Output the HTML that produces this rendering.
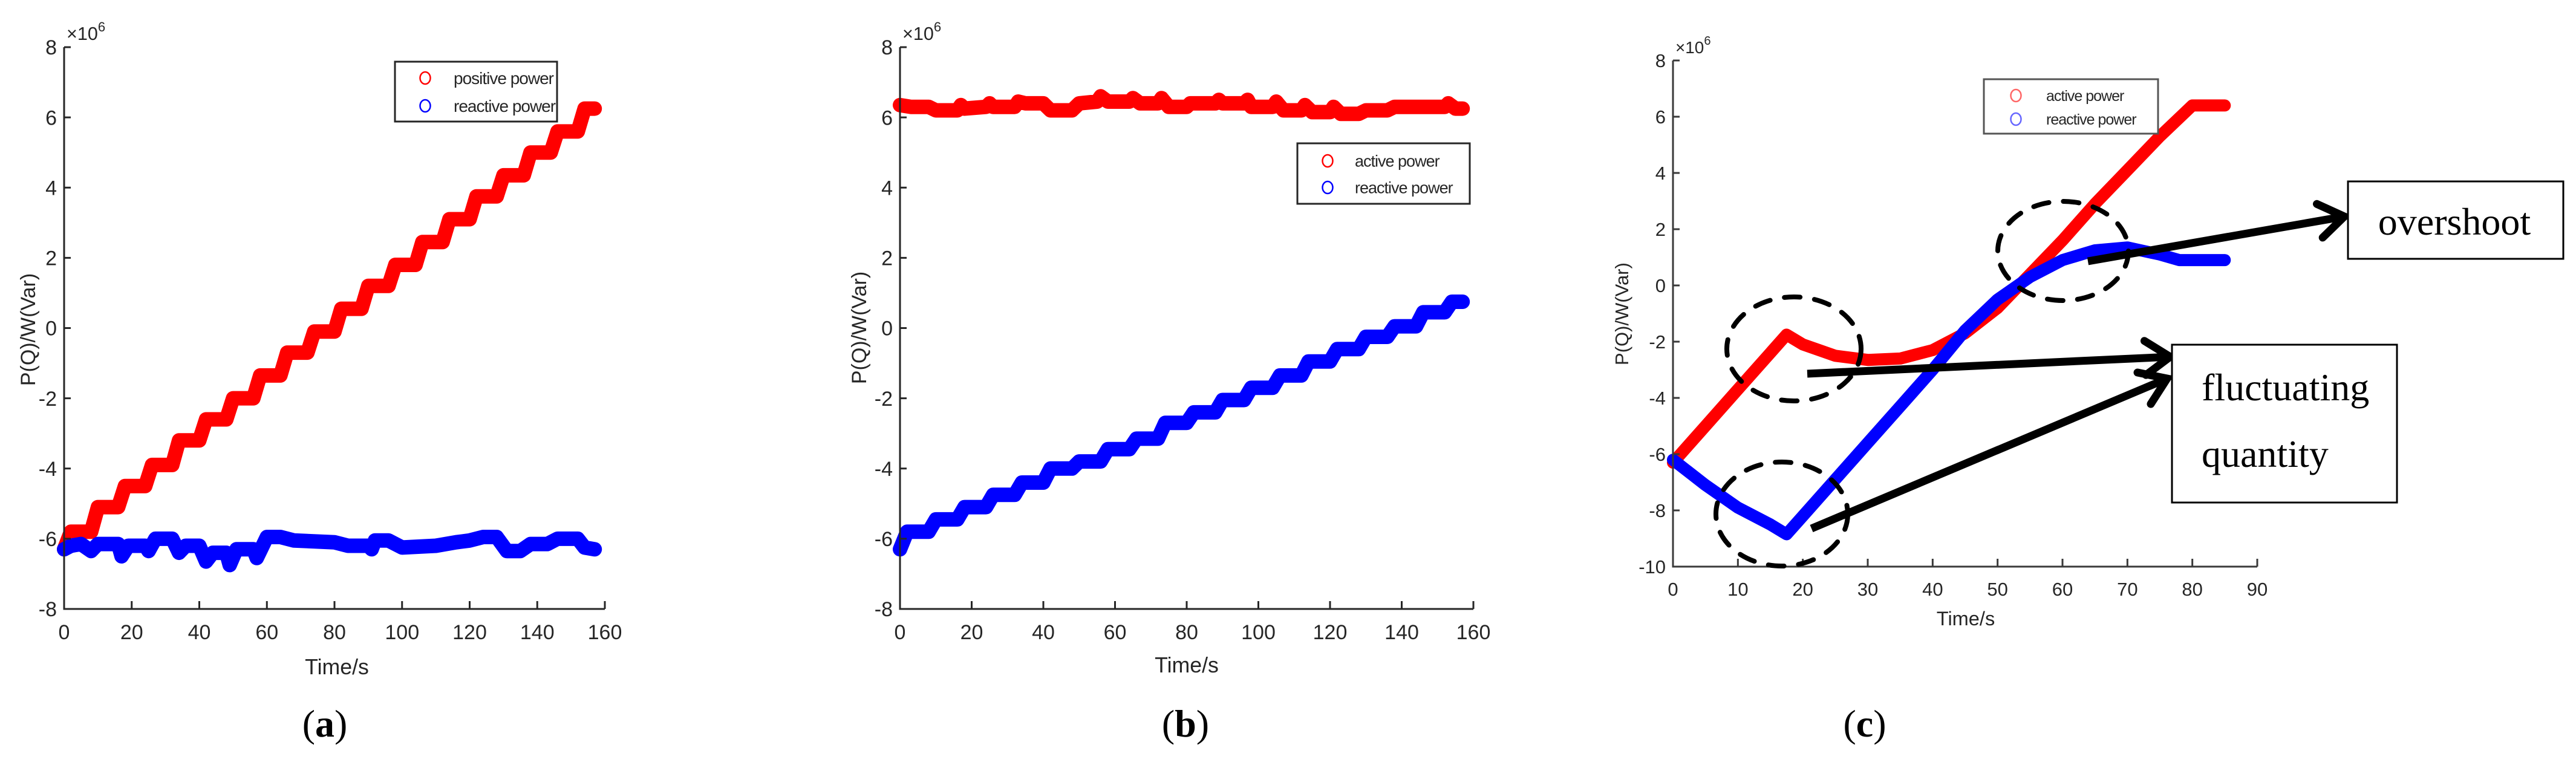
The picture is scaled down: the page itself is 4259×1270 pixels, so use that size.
<!DOCTYPE html>
<html><head><meta charset="utf-8">
<style>
html,body{margin:0;padding:0;background:#fff;}
svg{display:block;}
.tk{font-family:"Liberation Sans",sans-serif;fill:#262626;}
.lab{font-family:"Liberation Serif",serif;fill:#000;}
</style></head>
<body>
<svg id="fig" xmlns="http://www.w3.org/2000/svg" width="4259" height="1270" viewBox="0 0 4259 1270">
<rect width="4259" height="1270" fill="#fff"/>
</svg>
<script>
// ---------- Panel (a) data ----------
const aRedX = [0,2,8,10,16,18,24,26,32,34,40,42,48,50,56,58,64,66,72,74,80,82,88,90,96,98,104,106,112,114,120,122,128,130,136,138,144,146,152,154,157];
const aRedY = [-6.3,-5.8,-5.8,-5.1,-5.1,-4.5,-4.5,-3.9,-3.9,-3.2,-3.2,-2.6,-2.6,-2.0,-2.0,-1.35,-1.35,-0.7,-0.7,-0.1,-0.1,0.55,0.55,1.2,1.2,1.8,1.8,2.45,2.45,3.1,3.1,3.75,3.75,4.35,4.35,5.0,5.0,5.6,5.6,6.25,6.25];
const aBlueX = [0,2,5,8,10,16,17,19,24,25,27,32,34,36,40,42,44,48,49,51,56,57,60,64,68,80,84,90,91,92,96,100,110,116,120,124,128,131,135,138,143,146,152,154,157];
const aBlueY = [-6.3,-6.2,-6.15,-6.35,-6.15,-6.15,-6.5,-6.2,-6.2,-6.35,-6.0,-6.0,-6.4,-6.2,-6.2,-6.65,-6.4,-6.4,-6.75,-6.3,-6.3,-6.55,-5.95,-5.95,-6.05,-6.1,-6.2,-6.2,-6.3,-6.05,-6.05,-6.25,-6.2,-6.1,-6.05,-5.95,-5.95,-6.35,-6.35,-6.15,-6.15,-6.0,-6.0,-6.25,-6.3];
// ---------- Panel (b) data ----------
const bRedX = [0,3,8,10,16,17,18,24,25,26,32,33,35,40,42,48,50,55,56,58,64,65,67,72,73,75,80,81,88,89,90,96,97,98,104,105,107,112,113,115,120,121,123,128,130,136,138,152,153,155,157];
const bRedY = [6.35,6.3,6.3,6.2,6.2,6.35,6.25,6.3,6.4,6.3,6.3,6.45,6.4,6.4,6.2,6.2,6.4,6.45,6.6,6.45,6.45,6.55,6.4,6.4,6.55,6.3,6.3,6.4,6.4,6.5,6.4,6.4,6.5,6.3,6.3,6.45,6.2,6.2,6.35,6.15,6.15,6.3,6.1,6.1,6.2,6.2,6.3,6.3,6.4,6.25,6.25];
const bBlueX = [0,2,8,10,16,18,24,26,32,34,40,42,48,50,56,58,64,66,72,74,80,82,88,90,96,98,104,106,112,114,120,122,128,130,136,138,144,146,152,154,157];
const bBlueY = [-6.3,-5.8,-5.8,-5.45,-5.45,-5.1,-5.1,-4.75,-4.75,-4.4,-4.4,-4.0,-4.0,-3.8,-3.8,-3.45,-3.45,-3.15,-3.15,-2.7,-2.7,-2.4,-2.4,-2.05,-2.05,-1.7,-1.7,-1.35,-1.35,-0.95,-0.95,-0.6,-0.6,-0.25,-0.25,0.05,0.05,0.45,0.45,0.75,0.75];
// ---------- Panel (c) data ----------
const cRedX = [0,5,10,15,17.5,20,25,30,35,40,45,50,55,60,65,70,75,80,85];
const cRedY = [-6.3,-5.0,-3.7,-2.4,-1.75,-2.1,-2.5,-2.65,-2.6,-2.3,-1.7,-0.8,0.4,1.6,2.9,4.1,5.3,6.4,6.4];
const cBlueX = [0,5,10,15,17.5,20,25,30,35,40,45,50,55,60,65,70,75,78,80,85];
const cBlueY = [-6.2,-7.1,-7.9,-8.5,-8.85,-8.2,-6.9,-5.6,-4.3,-3.0,-1.6,-0.5,0.3,0.9,1.25,1.35,1.1,0.9,0.9,0.9];
// tick labels
const tickA_X = [0,20,40,60,80,100,120,140,160];
const tickA_Y = [-8,-6,-4,-2,0,2,4,6,8];
const tickC_X = [0,10,20,30,40,50,60,70,80,90];
const tickC_Y = [-10,-8,-6,-4,-2,0,2,4,6,8];

const NS = "http://www.w3.org/2000/svg";
const svg = document.getElementById('fig');
function mk(tag, attrs, parent){
  const e = document.createElementNS(NS, tag);
  for (const k in attrs) e.setAttribute(k, attrs[k]);
  (parent||svg).appendChild(e);
  return e;
}
function txt(str, attrs, parent){ const t = mk('text', attrs, parent); t.textContent = str; return t; }

function panel(cfg){
  const g = mk('g', {});
  
  
  const sx = v => cfg.x0 + (v - cfg.xmin) / (cfg.xmax - cfg.xmin) * (cfg.x1 - cfg.x0);
  const sy = v => cfg.yB + (v - cfg.ymin) / (cfg.ymax - cfg.ymin) * (cfg.yT - cfg.yB);
  cfg.series.forEach(s => {
    let d = '';
    s.xs.forEach((x, i) => { d += (i ? 'L' : 'M') + sx(x).toFixed(1) + ',' + sy(s.ys[i]).toFixed(1); });
    const p = mk('path', {d: d, fill: 'none', stroke: s.color, 'stroke-width': cfg.lw, 'stroke-linecap': 'round', 'stroke-linejoin': 'round'}, g);
    
    
  });
  const ax = mk('path', {d: `M${cfg.x0},${cfg.yT}L${cfg.x0},${cfg.yB}L${cfg.x1},${cfg.yB}`, fill: 'none', stroke: cfg.axisColor, 'stroke-width': 3}, g);
  
  
  cfg.xt.forEach(v => {
    const X = sx(v);
    const tl = mk('line', {x1: X, y1: cfg.yB, x2: X, y2: cfg.yB - 13, stroke: cfg.axisColor, 'stroke-width': 3}, g);
    
    
    const t = txt(String(v), {x: X, y: cfg.yB + cfg.xlOff, 'text-anchor': 'middle', 'font-size': cfg.fs, class: 'tk'}, g);
    
    
  });
  cfg.yt.forEach(v => {
    const Y = sy(v);
    const tl = mk('line', {x1: cfg.x0, y1: Y, x2: cfg.x0 + 11, y2: Y, stroke: cfg.axisColor, 'stroke-width': 3}, g);
    
    
    const t = txt(String(v), {x: cfg.x0 - 12, y: Y + cfg.fs * 0.36, 'text-anchor': 'end', 'font-size': cfg.fs, class: 'tk'}, g);
    
    
  });
  const ex = txt('×10', {x: cfg.x0 + 4, y: cfg.yT - 12, 'font-size': cfg.fs * 0.9, class: 'tk'}, g);
  
  
  const ts = mk('tspan', {dy: -14, 'font-size': cfg.fs * 0.65}, ex); ts.textContent = '6';
  const xtit = txt('Time/s', {x: cfg.xTitleX, y: cfg.xTitleY, 'text-anchor': 'middle', 'font-size': cfg.fs * 1.05, class: 'tk'}, g);
  
  
  const ytit = txt('P(Q)/W(Var)', {x: 0, y: 0, 'text-anchor': 'middle', 'font-size': cfg.fs, class: 'tk', transform: `translate(${cfg.yTitleX},${cfg.yTitleY}) rotate(-90)`}, g);
  
  
  const L = cfg.legend;
  const lg = mk('g', {}, g);
  
  
  mk('rect', {x: L.x, y: L.y, width: L.w, height: L.h, fill: '#fff', stroke: L.border, 'stroke-width': 3}, lg);
  L.items.forEach((it, i) => {
    const cy = L.y + L.rowY[i];
    const c = mk('ellipse', {cx: L.mx, cy: cy, rx: L.r * 0.85, ry: L.r, fill: 'none', stroke: it.color, 'stroke-width': 2.5}, lg);
    
    
    const t = txt(it.label, {x: L.tx, y: cy + L.fs * 0.36, 'font-size': L.fs, class: 'tk', fill: '#000', 'letter-spacing': -1}, lg);
    
    
  });
  const pl = mk('text', {x: cfg.labX, y: 1218, 'text-anchor': 'middle', 'font-size': 64, class: 'lab'}, g);
  
  
  const t1 = mk('tspan', {}, pl); t1.textContent = '(';
  const t2 = mk('tspan', {'font-weight': 'bold'}, pl); t2.textContent = cfg.letter;
  const t3 = mk('tspan', {}, pl); t3.textContent = ')';
  return {sx, sy, g};
}

panel({name: 'panel-a', x0: 106, x1: 1000, xmin: 0, xmax: 160, yT: 78, yB: 1007, ymin: -8, ymax: 8,
  lw: 24, axisColor: '#262626', xt: tickA_X, yt: tickA_Y, fs: 34, xlOff: 50,
  xTitleX: 557, xTitleY: 1115, yTitleX: 58, yTitleY: 545, labX: 537, letter: 'a',
  series: [{name: 'positive-power-series', xs: aRedX, ys: aRedY, color: '#ff0000'},
           {name: 'reactive-power-series-a', xs: aBlueX, ys: aBlueY, color: '#0000ff'}],
  legend: {x: 653, y: 102, w: 268, h: 99, border: '#262626', mx: 703, tx: 750, r: 10, fs: 28, rowY: [27, 73],
    items: [{label: 'positive power', color: '#ff0000'}, {label: 'reactive power', color: '#0000ff'}]}
});

panel({name: 'panel-b', x0: 1488, x1: 2436, xmin: 0, xmax: 160, yT: 78, yB: 1007, ymin: -8, ymax: 8,
  lw: 24, axisColor: '#262626', xt: tickA_X, yt: tickA_Y, fs: 34, xlOff: 50,
  xTitleX: 1962, xTitleY: 1112, yTitleX: 1432, yTitleY: 542, labX: 1960, letter: 'b',
  series: [{name: 'active-power-series-b', xs: bRedX, ys: bRedY, color: '#ff0000'},
           {name: 'reactive-power-series-b', xs: bBlueX, ys: bBlueY, color: '#0000ff'}],
  legend: {x: 2145, y: 237, w: 285, h: 100, border: '#262626', mx: 2195, tx: 2240, r: 10, fs: 27, rowY: [29, 73],
    items: [{label: 'active power', color: '#ff0000'}, {label: 'reactive power', color: '#0000ff'}]}
});

panel({name: 'panel-c', x0: 2766, x1: 3732, xmin: 0, xmax: 90, yT: 100, yB: 937, ymin: -10, ymax: 8,
  lw: 20, axisColor: '#3a3a3a', xt: tickC_X, yt: tickC_Y, fs: 31, xlOff: 48,
  xTitleX: 3250, xTitleY: 1034, yTitleX: 2692, yTitleY: 519, labX: 3083, letter: 'c',
  series: [{name: 'active-power-series-c', xs: cRedX, ys: cRedY, color: '#ff0000'},
           {name: 'reactive-power-series-c', xs: cBlueX, ys: cBlueY, color: '#0000ff'}],
  legend: {x: 3280, y: 131, w: 288, h: 90, border: '#555', mx: 3333, tx: 3383, r: 10, fs: 25, rowY: [27, 66],
    items: [{label: 'active power', color: '#ff6666'}, {label: 'reactive power', color: '#6666ff'}]}
});

// ---------- annotations (c) ----------
const ann = mk('g', {});


[[2966,577,111,86,'dashed-circle-active-dip'],[2946,850,109,86,'dashed-circle-reactive-dip'],[3411,415,108,82,'dashed-circle-overshoot']].forEach(c => {
  const e = mk('ellipse', {cx: c[0], cy: c[1], rx: c[2], ry: c[3], fill: 'none', stroke: '#000', 'stroke-width': 8, 'stroke-dasharray': '26 24', 'stroke-linecap': 'round'}, ann);
  
  
});
function arrow(x1,y1,x2,y2,name){
  const a = Math.atan2(y2-y1, x2-x1), L = 50, s = 0.6;
  const p1 = [x2 - L*Math.cos(a - s), y2 - L*Math.sin(a - s)];
  const p2 = [x2 - L*Math.cos(a + s), y2 - L*Math.sin(a + s)];
  const g = mk('g', {}, ann);
  
  
  mk('line', {x1, y1, x2: x2 - 4*Math.cos(a), y2: y2 - 4*Math.sin(a), stroke: '#000', 'stroke-width': 13}, g);
  mk('path', {d: `M${p1[0]},${p1[1]}L${x2},${y2}L${p2[0]},${p2[1]}`, fill: 'none', stroke: '#000', 'stroke-width': 13, 'stroke-linecap': 'round', 'stroke-linejoin': 'miter'}, g);
}
arrow(2988,618,3588,590,'arrow-to-fluctuating-1');
arrow(2995,874,3583,626,'arrow-to-fluctuating-2');
arrow(3452,432,3876,358,'arrow-to-overshoot');

const ob = mk('g', {}, ann);


mk('rect', {x: 3882, y: 300, width: 356, height: 128, fill: '#fff', stroke: '#000', 'stroke-width': 3}, ob);
txt('overshoot', {x: 4058, y: 388, 'text-anchor': 'middle', 'font-size': 64, class: 'lab'}, ob);

const fb = mk('g', {}, ann);


mk('rect', {x: 3591, y: 570, width: 372, height: 261, fill: '#fff', stroke: '#000', 'stroke-width': 3}, fb);
txt('fluctuating', {x: 3640, y: 662, 'font-size': 64, class: 'lab'}, fb);
txt('quantity', {x: 3640, y: 772, 'font-size': 64, class: 'lab'}, fb);
</script>
</body></html>
